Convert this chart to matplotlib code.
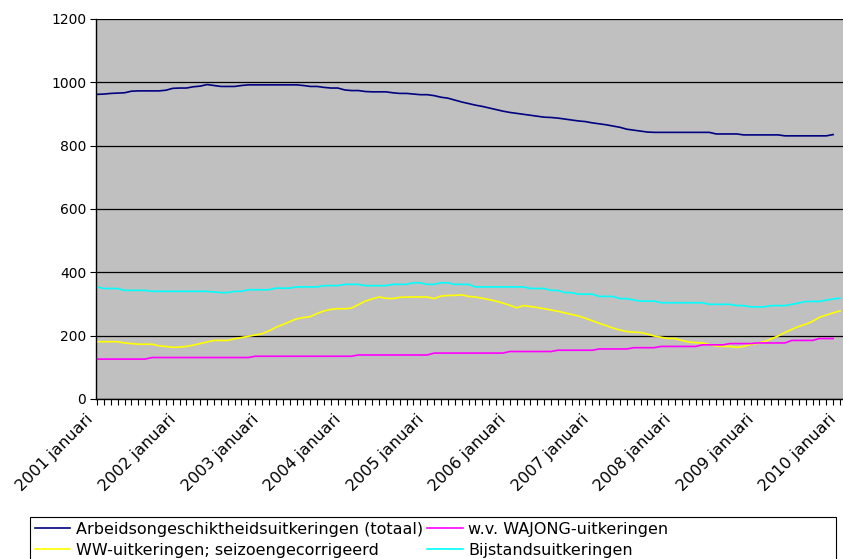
import numpy as np
import matplotlib
matplotlib.use("Agg")
import matplotlib.pyplot as plt
import matplotlib.transforms as mtransforms
from matplotlib.patches import Rectangle
from matplotlib.ticker import MultipleLocator, FixedLocator

# Monthly values (x 1000), from 2001 januari onwards
ao_totaal = [
    962, 963, 965, 966, 967, 972, 973, 973, 973, 973, 975, 981,   # 2001
    982, 982, 986, 988, 993, 990, 987, 987, 987, 990, 992, 992,   # 2002
    992, 992, 992, 992, 992, 992, 990, 987, 987, 984, 982, 982,   # 2003
    976, 974, 974, 971, 970, 970, 970, 967, 965, 965, 963, 961,   # 2004
    961, 958, 953, 950, 944, 938, 933, 928, 924, 919, 914, 909,   # 2005
    905, 902, 899, 896, 893, 890, 889, 887, 884, 881, 878, 876,   # 2006
    872, 869, 866, 862, 858, 852, 849, 846, 843, 842, 842, 842,   # 2007
    842, 842, 842, 842, 842, 842, 837, 837, 837, 837, 834, 834,   # 2008
    834, 834, 834, 834, 831, 831, 831, 831, 831, 831, 831, 835,   # 2009
]
wajong = [
    126, 126, 126, 126, 126, 126, 126, 126, 131, 131, 131, 131,
    131, 131, 131, 131, 131, 131, 131, 131, 131, 131, 131, 135,
    135, 135, 135, 135, 135, 135, 135, 135, 135, 135, 135, 135,
    135, 135, 139, 139, 139, 139, 139, 139, 139, 139, 139, 139,
    139, 145, 145, 145, 145, 145, 145, 145, 145, 145, 145, 145,
    150, 150, 150, 150, 150, 150, 150, 154, 154, 154, 154, 154,
    154, 158, 158, 158, 158, 158, 162, 162, 162, 162, 166, 166,
    166, 166, 166, 166, 171, 171, 171, 171, 175, 175, 175, 175,
    177, 177, 177, 177, 177, 185, 185, 185, 185, 191, 191, 191,
]
ww = [
    181, 181, 181, 181, 177, 175, 173, 173, 173, 168, 166, 163,
    164, 166, 170, 175, 180, 185, 185, 185, 190, 194, 198, 202,
    206, 215, 226, 235, 244, 253, 257, 260, 270, 278, 283, 285,
    285, 287, 298, 309, 316, 322, 318, 317, 321, 322, 322, 322,
    322, 317, 325, 327, 327, 329, 324, 322, 318, 314, 309, 303,
    296, 288, 295, 292, 289, 285, 281, 277, 272, 267, 262, 255,
    247, 239, 232, 224, 218, 213, 211, 210, 205, 199, 195, 191,
    191, 185, 180, 178, 177, 172, 167, 166, 166, 163, 166, 172,
    176, 181, 190, 199, 210, 220, 229, 236, 245, 258, 265, 272,
    278,
]
bijstand = [
    354, 349, 349, 349, 343, 343, 343, 343, 340, 340, 340, 340,
    340, 340, 340, 340, 340, 338, 336, 336, 340, 340, 345, 345,
    345, 345, 350, 350, 350, 354, 354, 354, 354, 358, 358, 358,
    362, 362, 362, 358, 358, 358, 358, 362, 362, 362, 367, 367,
    362, 362, 367, 367, 362, 362, 362, 354, 354, 354, 354, 354,
    354, 354, 354, 349, 349, 349, 343, 343, 336, 336, 331, 331,
    331, 324, 324, 324, 317, 317, 313, 309, 309, 309, 304, 304,
    304, 304, 304, 304, 304, 299, 299, 299, 299, 295, 295, 291,
    291, 291, 295, 295, 295, 299, 303, 308, 308, 308, 312, 316,
    318,
]
years = list(range(2001, 2011))
labels = [f"{y} januari" for y in years]

series = [
    (ao_totaal, "#000080", "Arbeidsongeschiktheidsuitkeringen (totaal)"),
    (ww, "#ffff00", "WW-uitkeringen; seizoengecorrigeerd"),
    (wajong, "#ff00ff", "w.v. WAJONG-uitkeringen"),
    (bijstand, "#00ffff", "Bijstandsuitkeringen"),
]

W, H = 843, 559
fig = plt.figure(figsize=(W / 100, H / 100), dpi=100)
left, right, top, bottom = 96, 846, 19, 399
ax = fig.add_axes([left / W, 1 - bottom / H, (right - left) / W, (bottom - top) / H])
ax.set_facecolor("#c0c0c0")

for vals, col, lab in series:
    ax.plot(np.arange(len(vals)), vals, color=col, lw=1.2, label=lab)

px_per_month = 6.88
x0 = -1 / px_per_month
ax.set_xlim(x0, x0 + (right - left) / px_per_month)
ax.set_ylim(0, 1200)

ax.yaxis.set_major_locator(MultipleLocator(200))
ax.grid(axis="y", color="black", lw=0.9)
ax.set_axisbelow(True)

ax.xaxis.set_major_locator(FixedLocator([12 * i for i in range(len(years))]))
ax.xaxis.set_minor_locator(MultipleLocator(1))
ax.set_xticklabels(labels, rotation=45, ha="right", va="center",
                   rotation_mode="anchor", fontsize=11.5)
ax.tick_params(axis="x", which="both", length=4, width=0.8, direction="out", pad=9)
ax.tick_params(axis="y", length=4, width=0.8, labelsize=10, pad=3)
shift = mtransforms.ScaledTranslation(-6 / 100, 0, fig.dpi_scale_trans)
for t in ax.get_xticklabels():
    t.set_transform(t.get_transform() + shift)

for s in ["top", "right"]:
    ax.spines[s].set_visible(False)
for s in ["left", "bottom"]:
    ax.spines[s].set_color("black")
    ax.spines[s].set_linewidth(1.0)

# legend box spans nearly the full width, entries packed on the left
fig.patches.append(Rectangle((30 / W, -0.05), (836 - 30) / W, 0.05 + (559 - 517) / H,
                             transform=fig.transFigure, facecolor="white",
                             edgecolor="black", lw=0.8, zorder=1))
handles, labs = ax.get_legend_handles_labels()
leg = fig.legend(handles, labs, ncol=2, loc="upper left",
                 bbox_to_anchor=(30 / W, 1 - 517 / H),
                 frameon=False, fontsize=11.5, handlelength=2.2,
                 handletextpad=0.35, columnspacing=0.3, labelspacing=0.38,
                 borderpad=0.3, borderaxespad=0)
leg.set_zorder(2)

fig.savefig("out.png", dpi=100)
